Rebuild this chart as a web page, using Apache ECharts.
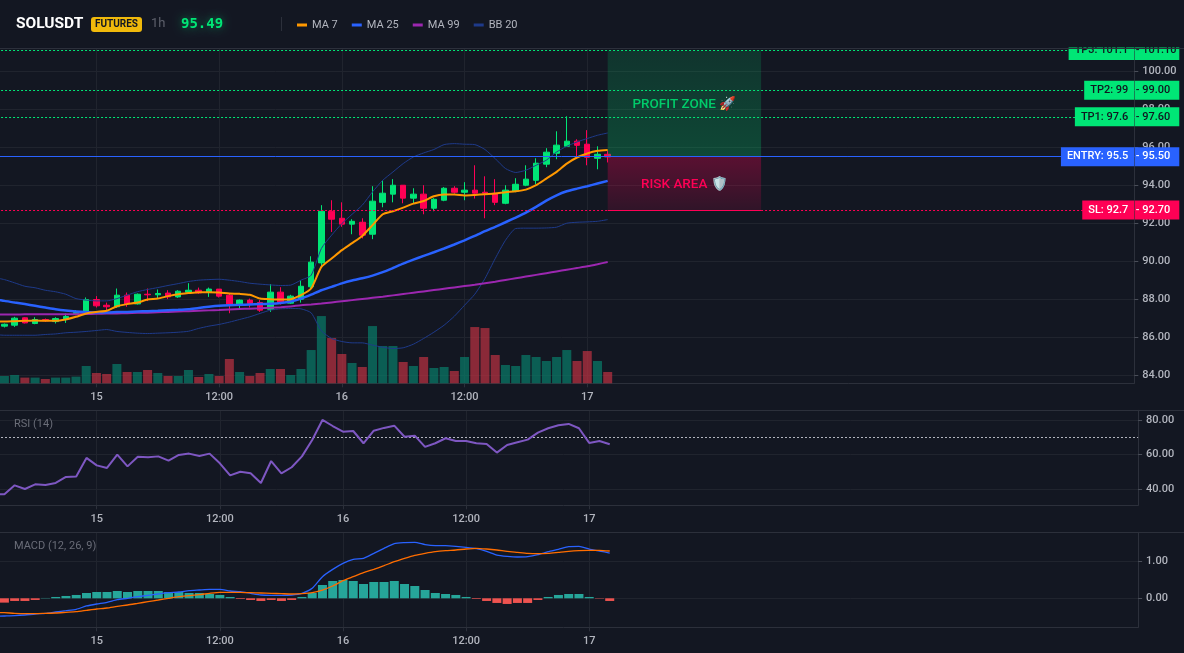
<!DOCTYPE html>
<html><head><meta charset="utf-8">
<style>html,body{margin:0;padding:0;background:#131722;overflow:hidden;width:1184px;height:653px}#c{position:absolute;left:-20px;top:0;width:1204px;height:653px}</style>
<script src="https://cdn.jsdelivr.net/npm/echarts@6/dist/echarts.min.js"></script>
</head><body><div id="c"></div>
<script>
const tickIndex=[10,22,34,46,58];
const tickLabels=['15','12:00','16','12:00','17'];
const slotCount=112;
// [open, close, low, high], first entry sits just off the left edge
const candles=[
[86.6,86.62,86.55,86.7],[86.58,86.68,86.51,86.72],[86.63,87.0,86.54,87.07],[87.02,86.75,86.72,87.05],[86.72,86.93,86.68,87.05],[86.93,86.86,86.81,86.98],[86.82,86.98,86.72,87.05],[86.96,87.09,86.75,87.25],[87.23,87.3,87.16,87.42],[87.37,87.98,87.3,88.09],
[87.98,87.65,87.56,88.16],[87.68,87.6,87.38,87.82],[87.6,88.21,87.54,88.56],[88.21,87.75,87.6,88.35],[87.75,88.26,87.72,88.3],[88.26,88.23,87.9,88.56],[88.23,88.3,88.03,88.51],[88.32,88.12,88.0,88.47],[88.12,88.42,88.07,88.47],[88.37,88.47,88.28,88.84],
[88.47,88.33,88.28,88.61],[88.37,88.53,88.12,88.61],[88.53,88.16,88.09,88.53],[88.21,87.74,87.26,88.32],[87.74,87.95,87.51,87.98],[87.95,87.77,87.56,88.03],[87.82,87.42,87.33,87.95],[87.47,88.37,87.33,88.79],[88.37,87.81,87.72,88.63],[87.79,88.16,87.75,88.23],
[88.0,88.68,87.82,89.0],[88.65,89.95,88.5,90.26],[89.91,92.63,89.74,92.95],[92.63,92.21,91.54,93.21],[92.26,91.95,91.81,93.1],[91.95,92.1,91.42,92.21],[92.05,91.37,91.2,92.26],[91.42,93.16,91.16,93.95],[93.1,93.58,92.84,94.26],[93.53,94.0,93.1,94.32],
[94.0,93.32,93.05,94.0],[93.32,93.53,93.05,93.84],[93.53,92.79,92.47,94.0],[92.79,93.26,92.63,93.32],[93.21,93.84,93.16,93.9],[93.84,93.63,93.56,93.95],[93.63,93.74,93.21,94.16],[93.74,93.58,93.3,95.05],[93.63,93.58,92.26,94.47],[93.58,93.1,92.95,94.32],
[93.05,93.74,93.0,94.0],[93.68,94.05,93.63,94.37],[94.0,94.32,93.95,95.05],[94.26,95.16,94.05,95.42],[95.11,95.74,94.95,95.95],[95.68,96.11,95.37,96.84],[96.05,96.32,96.05,97.63],[96.32,96.1,95.47,96.42],[96.16,95.47,95.05,96.9],[95.42,95.63,94.84,96.05],[95.63,95.49,95.2,95.8]];
const volumes=[7,7.3,8.3,5.7,5.7,4.3,5.7,5.7,6.7,17.3,10.3,9.3,19.3,11.3,11.3,13.3,10.3,7.3,7.3,13.3,6.3,9.3,7.3,24.3,11.3,7.3,10.3,14.3,14.3,8.3,14.3,33.3,67.3,45.3,29.3,20.3,16.3,57.3,37.3,37.3,21.3,17.3,26.3,15.3,16.3,12.3,26.3,56.3,55.3,28.3,18.3,17.3,28.3,26.3,22.3,26.3,33.3,22.3,32.3,22.3,11.3];
const ma7=[86.82,86.82,86.84,86.86,86.88,86.86,86.86,86.93,87.07,87.25,87.33,87.39,87.63,87.74,87.82,87.98,88.03,88.16,88.26,88.32,88.37,88.37,88.35,88.3,88.28,88.23,88.03,88.0,87.98,88.0,88.21,88.56,89.7,90.14,90.58,90.95,91.33,91.9,92.47,92.63,92.82,93.03,93.17,93.42,93.51,93.51,93.46,93.49,93.53,93.56,93.63,93.68,93.77,94.0,94.35,94.7,95.14,95.46,95.67,95.81,95.86];
const ma25=[87.98,87.91,87.82,87.74,87.65,87.56,87.47,87.4,87.35,87.32,87.3,87.3,87.32,87.33,87.35,87.37,87.39,87.42,87.44,87.47,87.54,87.6,87.65,87.68,87.7,87.72,87.74,87.76,87.8,87.88,88.03,88.24,88.47,88.65,88.83,88.98,89.1,89.24,89.42,89.64,89.87,90.08,90.28,90.47,90.67,90.88,91.1,91.33,91.58,91.81,92.05,92.3,92.56,92.86,93.19,93.47,93.68,93.82,93.95,94.09,94.23];
const ma99=[87.19,87.19,87.19,87.2,87.2,87.2,87.2,87.21,87.21,87.22,87.23,87.24,87.25,87.26,87.28,87.29,87.31,87.33,87.35,87.37,87.39,87.41,87.43,87.46,87.48,87.5,87.52,87.55,87.58,87.62,87.68,87.72,87.77,87.83,87.89,87.95,88.01,88.07,88.13,88.2,88.27,88.34,88.41,88.48,88.55,88.62,88.69,88.76,88.84,88.92,89.01,89.1,89.19,89.28,89.37,89.46,89.55,89.64,89.73,89.84,89.96];
const bbUpper=[89.14,89.03,88.86,88.68,88.6,88.47,88.39,88.26,88.03,87.95,87.91,87.91,88.03,88.21,88.39,88.51,88.61,88.72,88.82,88.93,89.0,89.03,89.05,89.0,88.93,88.84,88.79,88.75,88.72,88.74,89.0,89.26,90.67,91.37,91.98,92.47,92.95,93.65,94.26,94.7,95.14,95.49,95.7,95.88,96.14,96.19,96.16,96.14,95.88,95.4,94.88,94.67,94.79,95.05,95.32,95.75,96.05,96.28,96.46,96.63,96.75];
const bbLower=[86.14,86.1,86.1,86.1,86.1,86.14,86.17,86.23,86.26,86.3,86.35,86.4,86.3,86.25,86.21,86.19,86.21,86.23,86.26,86.31,86.46,86.58,86.67,86.79,86.93,87.07,87.25,87.42,87.49,87.51,87.49,87.28,86.33,85.93,85.77,85.7,85.7,85.58,85.47,85.4,85.44,85.63,85.93,86.26,86.63,87.1,87.68,88.26,89.09,90.14,91.1,91.72,91.74,91.74,91.75,91.79,92.0,92.05,92.07,92.1,92.19];
const rsi=[36.9,36.9,42.1,40.0,42.7,42.3,43.5,47.0,47.3,58.0,53.7,52.2,59.9,53.1,58.7,58.4,58.9,56.4,59.7,60.5,59.1,60.5,54.9,47.9,50.0,49.1,43.5,56.2,49.1,52.6,58.9,68.4,80.0,76.5,73.2,73.6,66.5,73.8,75.4,76.7,70.3,70.9,64.4,66.5,69.4,67.8,67.8,66.5,66.1,61.1,65.5,67.1,68.6,72.7,75.2,76.9,77.7,75.2,66.7,67.8,65.9];
const macdLine=[-.487,-.478,-.469,-.451,-.424,-.406,-.37,-.334,-.298,-.208,-.154,-.109,-.037,0,.044,.08,.116,.152,.17,.206,.224,.242,.242,.197,.179,.134,.089,.08,.08,.089,.134,.269,.585,.783,.945,1.053,1.08,1.215,1.35,1.477,1.504,1.513,1.45,1.423,1.423,1.405,1.378,1.341,1.269,1.17,1.134,1.116,1.125,1.179,1.26,1.323,1.396,1.405,1.332,1.278,1.224];
const macdSignal=[-.379,-.388,-.406,-.415,-.415,-.406,-.397,-.379,-.361,-.325,-.289,-.262,-.217,-.181,-.136,-.091,-.046,0,.044,.071,.098,.134,.161,.161,.161,.152,.143,.134,.125,.116,.125,.152,.224,.332,.476,.585,.693,.783,.882,.99,1.08,1.161,1.215,1.26,1.287,1.305,1.332,1.35,1.332,1.305,1.269,1.242,1.215,1.206,1.215,1.242,1.269,1.287,1.296,1.296,1.278];
const macdHist=[-.13,-.117,-.072,-.072,-.045,.009,.036,.063,.09,.144,.171,.171,.198,.171,.198,.198,.198,.171,.171,.144,.144,.117,.09,.036,-.018,-.045,-.072,-.045,-.072,-.045,.036,.144,.36,.468,.495,.468,.387,.441,.441,.468,.387,.333,.225,.144,.117,.09,.036,-.018,-.072,-.126,-.153,-.126,-.126,-.045,.036,.09,.117,.117,.036,-.01,-.072];
const priceTicks=[84,86,88,90,92,94,96,98,100];
const rsiTicks=[40,60,80];
const macdTicks=[0,1];
const levels=[
 {name:'TP3',value:101.1,color:'#00e676',ink:'#10151f'},
 {name:'TP2',value:99,color:'#00e676',ink:'#10151f'},
 {name:'TP1',value:97.6,color:'#00e676',ink:'#10151f'},
 {name:'ENTRY',value:95.5,color:'#2962ff',ink:'#ffffff',solid:true},
 {name:'SL',value:92.7,color:'#ff0055',ink:'#ffffff'}];
const zoneStart=60, zoneEnd=75;

const BG='#131722',GRID='#20242e',AXIS='#2c303b',TXT='#b2b5be',FONT='Roboto, "Noto Sans", sans-serif';
const UP='#00e676',DOWN='#ff0055';
const categories=Array.from({length:slotCount},(_,i)=>{const p=tickIndex.indexOf(i);return p<0?'':tickLabels[p];});
const isTick=i=>tickIndex.includes(i);

function xAxis(gridIndex){return {type:'category',gridIndex,data:categories,boundaryGap:true,
  axisLine:{onZero:false,lineStyle:{color:AXIS}},
  axisTick:{show:true,alignWithLabel:true,interval:isTick,length:4,lineStyle:{color:AXIS}},
  axisLabel:{interval:isTick,color:TXT,fontFamily:FONT,fontSize:11,fontWeight:500,margin:8,hideOverlap:false},
  splitLine:{show:true,alignWithLabel:true,interval:isTick,lineStyle:{color:GRID}}};}
function yAxis(gridIndex,min,max,ticks){return {type:'value',gridIndex,position:'right',min,max,scale:true,
  axisLine:{show:true,lineStyle:{color:AXIS}},
  axisTick:{show:true,length:4,customValues:ticks,lineStyle:{color:'#4a4e59'}},
  axisLabel:{customValues:ticks,color:TXT,fontFamily:FONT,fontSize:11,fontWeight:500,margin:8,formatter:v=>v.toFixed(2)},
  splitLine:{show:true,lineStyle:{color:GRID}}};}

const lvlData=[];
levels.forEach(l=>{
  const base={color:l.ink,backgroundColor:l.color,fontFamily:FONT,fontSize:11,fontWeight:500,lineHeight:11,height:11,padding:[4,6,4,6],verticalAlign:'middle',position:'end',distance:0};
  lvlData.push({yAxis:l.value,lineStyle:{color:l.color,width:1,type:l.solid?'solid':[2,2]},
    label:{...base,align:'right',formatter:l.name+': '+l.value}});
  lvlData.push({yAxis:l.value,lineStyle:{color:'rgba(0,0,0,0)',width:1},
    label:{...base,align:'left',width:36,padding:[4,7.5,4,1],offset:[0.5,0],formatter:'- '+l.value.toFixed(2)}});
});
lvlData.push([{coord:[zoneStart,levels[4].value-0.03],lineStyle:{color:DOWN,width:1,type:'solid'},label:{show:false}},{coord:[zoneEnd,levels[4].value-0.03]}]);

const grad=(a,b)=>({type:'linear',x:0,y:0,x2:0,y2:1,colorStops:[{offset:0,color:a},{offset:1,color:b}]});
const line=(name,data,color,width,x,y,smooth,z)=>({name,type:'line',data,xAxisIndex:x,yAxisIndex:y,showSymbol:false,symbol:'none',smooth:smooth?0.2:false,lineStyle:{color,width},itemStyle:{color},z:z||5,silent:true,animation:false});

const option={backgroundColor:BG,animation:false,
 legend:{left:312,top:14.5,itemWidth:10,itemHeight:3,itemGap:14,icon:'rect',selectedMode:false,
   data:['MA 7','MA 25','MA 99','BB 20'],textStyle:{color:TXT,fontFamily:FONT,fontSize:11},z:200},
 grid:[
  {left:9.07,top:48.3,width:1145.23,height:335},
  {left:9.01,top:410.3,width:1149.1,height:95},
  {left:9.01,top:532.3,width:1149.1,height:95}],
 xAxis:[xAxis(0),xAxis(1),xAxis(2)],
 yAxis:[yAxis(0,83.57,101.21,priceTicks),
  {type:'value',gridIndex:0,min:0,max:335.3,show:false},
  yAxis(1,30.55,85.6,rsiTicks),
  yAxis(2,-0.784,1.784,macdTicks)],
 series:[
  {name:'Volume',type:'bar',data:volumes.map((v,i)=>({value:v,itemStyle:{color:candles[i][1]>=candles[i][0]?'rgba(8,125,105,.7)':'rgba(190,50,65,.7)'}})),xAxisIndex:0,yAxisIndex:1,barWidth:9,z:1,silent:true},
  {name:'SOLUSDT',type:'candlestick',data:candles.map(c=>[c[0],c[1],c[2],c[3]]),xAxisIndex:0,yAxisIndex:0,barWidth:6,z:3,silent:true,
   itemStyle:{color:UP,color0:DOWN,borderColor:UP,borderColor0:DOWN,borderWidth:1},
   markLine:{silent:true,symbol:'none',animation:false,precision:2,data:lvlData,z:8},
   markArea:{silent:true,animation:false,z:6,data:[
    [{yAxis:levels[0].value,xAxis:zoneStart,itemStyle:{color:grad('rgba(0,230,118,.14)','rgba(0,230,118,.24)')},
      label:{show:true,position:['50%','51.4%'],align:'center',verticalAlign:'middle',formatter:'PROFIT ZONE 🚀',color:'#00cc6a',fontFamily:FONT,fontSize:13.5,fontWeight:500}},
     {yAxis:levels[3].value,xAxis:zoneEnd}],
    [{yAxis:levels[3].value,xAxis:zoneStart,itemStyle:{color:grad('rgba(255,0,85,.3)','rgba(255,0,85,.12)')},
      label:{show:true,position:['50%','52.8%'],align:'center',verticalAlign:'middle',formatter:'RISK AREA 🛡️',color:'#ff0055',fontFamily:FONT,fontSize:13.5,fontWeight:500}},
     {yAxis:levels[4].value-0.03,xAxis:zoneEnd}]]}},
  line('BB 20',bbUpper,'#1e3a8a',1,0,0,true),
  line('BB 20',bbLower,'#1e3a8a',1,0,0,true),
  line('MA 99',ma99,'#9c27b0',2,0,0,true),
  line('MA 25',ma25,'#2962ff',2.5,0,0,true),
  line('MA 7',ma7,'#ff9800',2,0,0,true),
  Object.assign(line('RSI',rsi,'#7e57c2',2,1,2,false),{markLine:{silent:true,symbol:'none',animation:false,label:{show:false},lineStyle:{color:'#b2b5be',width:1,type:[2,2]},data:[{yAxis:70}]}}),
  {name:'MACD Hist',type:'bar',data:macdHist.map(v=>({value:v,itemStyle:{color:v>=0?'#26a69a':'#ef5350'}})),xAxisIndex:2,yAxisIndex:3,barWidth:9,z:2,silent:true},
  line('MACD',macdLine,'#2962ff',1.3,2,3,true),
  line('Signal',macdSignal,'#ff6d00',1.3,2,3,true)
 ],
 graphic:[{type:'group',x:20,z:100,children:[
  {type:'rect',z:100,shape:{x:-20,y:0,width:1204,height:47.5},style:{fill:BG}},
  {type:'line',z:101,shape:{x1:-20,y1:48.5,x2:1184,y2:48.5},style:{stroke:AXIS,lineWidth:1}},
  {type:'line',z:101,shape:{x1:-20,y1:410.5,x2:1184,y2:410.5},style:{stroke:AXIS,lineWidth:1}},
  {type:'line',z:101,shape:{x1:-20,y1:532.5,x2:1184,y2:532.5},style:{stroke:AXIS,lineWidth:1}},
  {type:'line',z:101,shape:{x1:281.5,y1:17,x2:281.5,y2:31},style:{stroke:'#2c303b',lineWidth:1}},
  {type:'text',z:101,x:16,y:24,style:{text:'SOLUSDT',fill:'#ffffff',font:'700 15.5px '+FONT,textVerticalAlign:'middle'}},
  {type:'rect',z:101,shape:{x:91,y:17,width:51,height:15,r:3},style:{fill:'#f0b90b'}},
  {type:'text',z:102,x:116.5,y:24.5,style:{text:'FUTURES',fill:'#131722',font:'700 10px '+FONT,textAlign:'center',textVerticalAlign:'middle'}},
  {type:'text',z:101,x:151,y:24,style:{text:'1h',fill:'#5d606b',font:'400 13px '+FONT,textVerticalAlign:'middle'}},
  {type:'text',z:101,x:181,y:24,style:{text:'95.49',fill:'#00e676',font:'700 14px "DejaVu Sans Mono", monospace',textVerticalAlign:'middle',textShadowColor:'rgba(0,230,118,.5)',textShadowBlur:8}},
  {type:'text',z:101,x:14,y:424,style:{text:'RSI (14)',fill:'#6a6d78',font:'400 11px '+FONT,textVerticalAlign:'middle'}},
  {type:'text',z:101,x:14,y:546,style:{text:'MACD (12, 26, 9)',fill:'#6a6d78',font:'400 11px '+FONT,textVerticalAlign:'middle'}}
 ]}]
};
const chart=echarts.init(document.getElementById('c'),null,{renderer:'canvas',width:1204,height:653});
chart.setOption(option);
</script></body></html>
